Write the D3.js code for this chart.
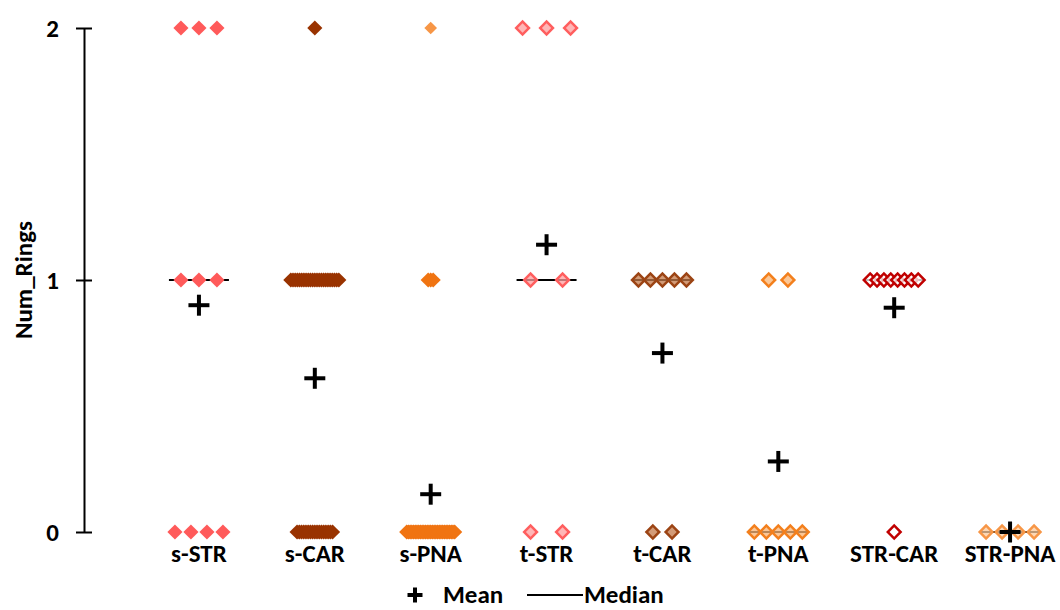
<!DOCTYPE html>
<html><head><meta charset="utf-8">
<script src="https://cdn.jsdelivr.net/npm/d3@7"></script>
<style>body{margin:0;background:#fff}svg{display:block}</style>
</head><body>
<svg id="chart" width="1060" height="610"></svg>
<script>
// ---- data ----
const categories = ["s-STR","s-CAR","s-PNA","t-STR","t-CAR","t-PNA","STR-CAR","STR-PNA"];
const levels = [0, 1, 2];
const count0 = [4, 17, 29, 2, 2, 5, 1, 4];
const count1 = [3, 23, 3, 2, 5, 2, 8, 0];
const count2 = [3, 1, 1, 3, 0, 0, 0, 0];
const means = [0.90, 0.61, 0.15, 1.14, 0.71, 0.28, 0.89, 0.00];
const medians = [1, 1, 0, 1, 1, 0, 1, 0];
const yTicks = [0, 1, 2];
const yTitle = "Num_Rings";
const legendLabels = ["Mean", "Median"];

// ---- styles ----
const styles = {
  "s-STR":   {fill:"#FF5A5A", stroke:"none",    outline:false},
  "s-CAR":   {fill:"#993300", stroke:"none",    outline:false},
  "s-PNA":   {fill:"#F07412", stroke:"none",    outline:false},
  "t-STR":   {fill:"#FF9E9E", stroke:"#FF5E5E", outline:true},
  "t-CAR":   {fill:"#C47A4A", stroke:"#9C4414", outline:true},
  "t-PNA":   {fill:"#F9B474", stroke:"#F37F1C", outline:true},
  "STR-CAR": {fill:"#FFFFFF", stroke:"#C00000", outline:true},
  "STR-PNA": {fill:"#FCCB9C", stroke:"#F79646", outline:true}
};
const overrides = {"s-PNA|2": {fill:"#F79646", size:0.7}};
const FONT = "Carlito, Lato, 'Open Sans', sans-serif";

const svg = d3.select("#chart");
const x = d3.scaleBand().domain(categories).range([141, 1068]).padding(0);
const y = d3.scaleLinear().domain([0, 2]).range([532, 28]);
const cx = c => x(c) + x.bandwidth() / 2;

// axis
const axis = d3.axisLeft(y).tickValues(yTicks).tickFormat(d3.format("d"))
  .tickSizeInner(8).tickSizeOuter(0).tickPadding(17);
const gA = svg.append("g").attr("transform", "translate(84,0)").call(axis);
gA.select(".domain").attr("stroke", "#000").attr("stroke-width", 2);
gA.selectAll(".tick line").attr("stroke", "#000").attr("stroke-width", 2);
gA.selectAll(".tick").append("line").attr("x1", 0).attr("x2", 8)
  .attr("stroke", "#000").attr("stroke-width", 2);
gA.selectAll(".tick text").attr("font-family", FONT).attr("font-size", 25)
  .attr("font-weight", "bold").attr("fill", "#000");

svg.append("text").attr("transform", "translate(32,280) rotate(-90)")
  .attr("text-anchor", "middle").attr("font-family", FONT).attr("font-size", 25)
  .attr("font-weight", "bold").text(yTitle);

// category labels
svg.append("g").selectAll("text").data(categories).join("text")
  .attr("x", d => cx(d)).attr("y", 562).attr("text-anchor", "middle")
  .attr("font-family", FONT).attr("font-size", 25).attr("font-weight", "bold")
  .text(d => d);

// median lines
svg.append("g").selectAll("line").data(categories).join("line")
  .attr("x1", d => cx(d) - 30).attr("x2", d => cx(d) + 30)
  .attr("y1", (d, i) => y(medians[i])).attr("y2", (d, i) => y(medians[i]))
  .attr("stroke", "#000").attr("stroke-width", 2);

// points
const counts = [count0, count1, count2];
const pts = [];
const SPREAD = 48;
categories.forEach((c, ci) => {
  const M = d3.max(levels, l => counts[l][ci]);
  levels.forEach(l => {
    const n = counts[l][ci];
    if (!n) return;
    const span = SPREAD * n / M;
    const step = n > 1 ? span / (n - 1) : 0;
    for (let k = 0; k < n; k++) {
      pts.push({c, l, off: (k - (n - 1) / 2) * step});
    }
  });
});
svg.append("g").selectAll("path").data(pts).join("path")
  .attr("transform", d => `translate(${cx(d.c) + d.off},${y(d.l)}) rotate(45)`)
  .attr("d", d => {
    const st = styles[d.c], ov = overrides[d.c + "|" + d.l] || {};
    const base = st.outline ? 82 : 115;
    return d3.symbol(d3.symbolSquare, base * (ov.size || 1))();
  })
  .attr("fill", d => (overrides[d.c + "|" + d.l] || {}).fill || styles[d.c].fill)
  .attr("fill-opacity", d => styles[d.c].outline ? 0.75 : 1)
  .attr("stroke", d => styles[d.c].stroke)
  .attr("stroke-width", d => styles[d.c].outline ? 2.5 : 0);

// means
const cross = (g, px, py, r, sw) => {
  g.append("line").attr("x1", px - r).attr("x2", px + r).attr("y1", py).attr("y2", py)
    .attr("stroke", "#000").attr("stroke-width", sw);
  g.append("line").attr("x1", px).attr("x2", px).attr("y1", py - r).attr("y2", py + r)
    .attr("stroke", "#000").attr("stroke-width", sw);
};
const gM = svg.append("g");
categories.forEach((c, i) => cross(gM, cx(c), y(means[i]), 10.5, 4));

// legend
const gL = svg.append("g");
cross(gL, 415, 595, 7.5, 4);
gL.append("text").attr("x", 443).attr("y", 603).attr("font-family", FONT)
  .attr("font-size", 25).attr("font-weight", "bold").text(legendLabels[0]);
gL.append("line").attr("x1", 527).attr("x2", 583).attr("y1", 595).attr("y2", 595)
  .attr("stroke", "#000").attr("stroke-width", 2);
gL.append("text").attr("x", 584).attr("y", 603).attr("font-family", FONT)
  .attr("font-size", 25).attr("font-weight", "bold").text(legendLabels[1]);
</script>
</body></html>
